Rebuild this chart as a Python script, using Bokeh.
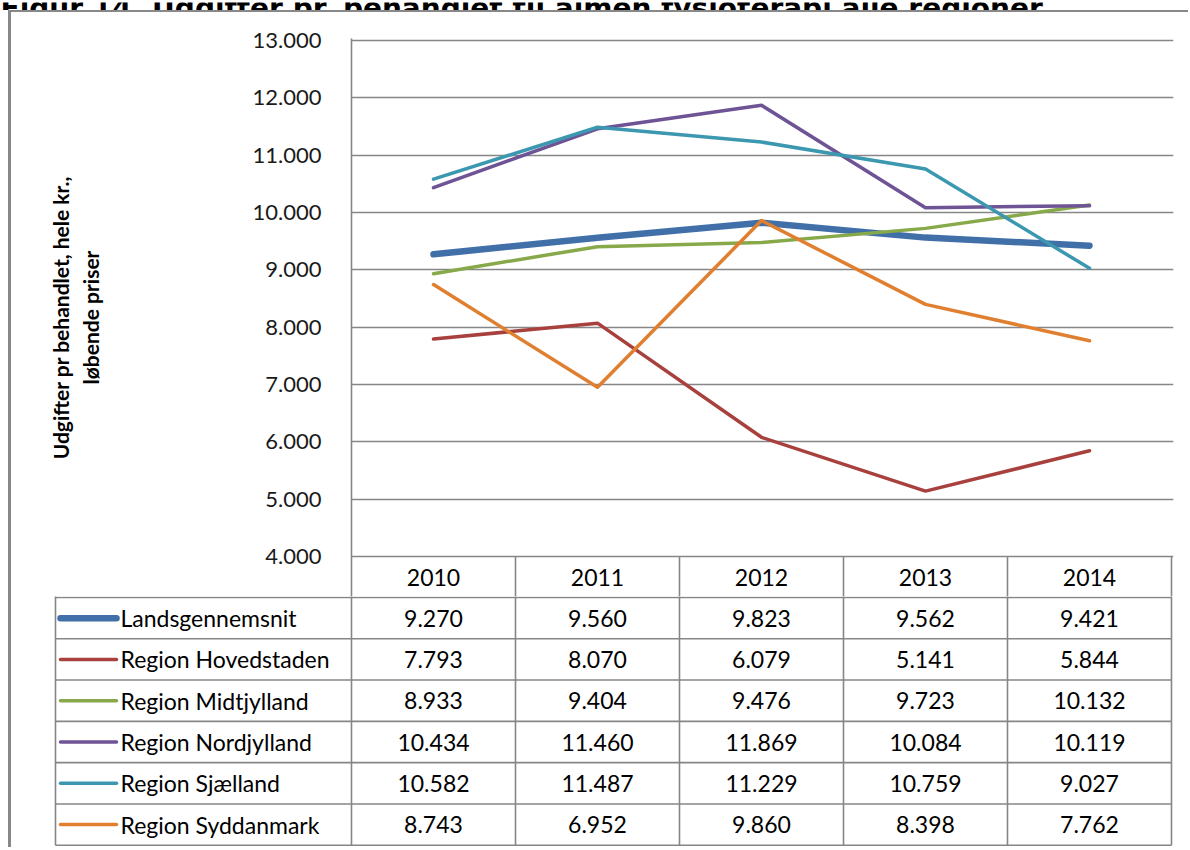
from bokeh.plotting import figure
from bokeh.models import Range1d, FixedTicker, CustomJSTickFormatter, Div, ColumnDataSource
from bokeh.layouts import column, row
from bokeh.core.properties import value
from bokeh.embed import file_html
from bokeh.resources import INLINE

# ---------------- data ----------------
title_text = "Figur 14. Udgifter pr. behandlet til almen fysioterapi alle regioner"
y_axis_title = "Udgifter pr behandlet, hele kr.,\nløbende priser"
years = ["2010", "2011", "2012", "2013", "2014"]
series_names = ["Landsgennemsnit", "Region Hovedstaden", "Region Midtjylland",
                "Region Nordjylland", "Region Sjælland", "Region Syddanmark"]
landsgennemsnit = [9270, 9560, 9823, 9562, 9421]
hovedstaden = [7793, 8070, 6079, 5141, 5844]
midtjylland = [8933, 9404, 9476, 9723, 10132]
nordjylland = [10434, 11460, 11869, 10084, 10119]
sjaelland = [10582, 11487, 11229, 10759, 9027]
syddanmark = [8743, 6952, 9860, 8398, 7762]
y_ticks = [4000, 5000, 6000, 7000, 8000, 9000, 10000, 11000, 12000, 13000]

series_values = [landsgennemsnit, hovedstaden, midtjylland, nordjylland, sjaelland, syddanmark]

# ---------------- styles ----------------
colors = ["#4170A8", "#A8413D", "#87A94A", "#6E5495", "#3B98B0", "#E07F30"]
widths = [6.5, 3.5, 3.5, 3.5, 3.5, 3.5]
GRID = "#868686"
FONT = "Lato"
FS = "22px"
TFS = "23px"


def fmt(v):
    return f"{v:,}".replace(",", ".")


def set_frame_free(fig):
    try:
        fig.frame_align = False
    except Exception:
        pass


# ---------------- title strip ----------------
tf = figure(width=1188, height=10, x_range=Range1d(0, 1188), y_range=Range1d(0, 10),
            x_axis_location=None, y_axis_location=None, min_border=0,
            output_backend="svg", toolbar_location=None)
tf.outline_line_color = None
tf.grid.visible = False
set_frame_free(tf)
tf.text(x=[0], y=[4.5], text=[title_text], text_font=value("DejaVu Sans"),
        text_font_style="bold", text_font_size="28px", text_baseline="alphabetic",
        text_color="#000000")

# ---------------- chart (with the table's year header row) ----------------
col_px = 164.0
n_cols = len(years)
row_px = 289.0 / (len(series_names) + 1)
px_per_val = 516 / 9000.0
y_lo = min(y_ticks) - 40 / px_per_val
y_hi = max(y_ticks) + 2 / px_per_val
header_y = min(y_ticks) - (row_px / 2) / px_per_val

p = figure(width=1177, height=584,
           x_range=Range1d(-0.5, n_cols - 0.5 + 2 / col_px),
           y_range=Range1d(y_lo, y_hi), x_axis_location=None,
           min_border_left=340, min_border_right=15, min_border_top=26, min_border_bottom=0,
           output_backend="svg", toolbar_location=None)
set_frame_free(p)
p.outline_line_color = None
for g in p.xgrid:
    g.visible = False
ax = p.yaxis[0]
ax.ticker = FixedTicker(ticks=y_ticks)
ax.formatter = CustomJSTickFormatter(
    code="return tick.toFixed(0).replace(/\\B(?=(\\d{3})+(?!\\d))/g, '.');")
ax.major_tick_in = 0
ax.major_tick_out = 0
ax.minor_tick_in = 0
ax.minor_tick_out = 0
ax.axis_line_color = GRID
ax.axis_line_width = 1.6
ax.major_label_standoff = 30
ax.major_label_text_font = FONT
ax.major_label_text_font_size = FS
ax.major_label_text_color = "#1a1a1a"
ax.axis_label = y_axis_title
ax.axis_label_text_font = FONT
ax.axis_label_text_font_style = "bold"
ax.axis_label_text_font_size = "21px"
ax.axis_label_text_color = "#000000"
ax.axis_label_standoff = 147
p.ygrid.ticker = FixedTicker(ticks=y_ticks)
p.ygrid.grid_line_color = GRID
p.ygrid.grid_line_width = 1.3

xs = list(range(n_cols))
for name, vals, c, w in zip(series_names, series_values, colors, widths):
    src = ColumnDataSource(dict(x=xs, y=vals))
    p.line("x", "y", source=src, line_color=c, line_width=w,
           line_join="round", line_cap="round")

# header row of the data table: column separators and year labels
sep_x = [i - 0.5 for i in range(1, n_cols + 1)]
p.segment(x0=sep_x, y0=[min(y_ticks)] * len(sep_x), x1=sep_x, y1=[y_lo] * len(sep_x),
          line_color=GRID, line_width=1.6)
p.text(x=xs, y=[header_y] * n_cols, text=years, text_font=value(FONT), text_font_size=TFS,
       text_align="center", text_baseline="middle", text_color="#000000")

# ---------------- data table body ----------------
n_rows = len(series_names)
table_left = -0.5 - (351 - 55) / col_px
x_start = -0.5 - (351 - 53) / col_px
x_end = n_cols - 0.5 + 2 / col_px
ty_top = 1 - 1 / row_px
t_height = 251
ty_bottom = ty_top + t_height / row_px

t = figure(width=1177, height=t_height, x_range=Range1d(x_start, x_end),
           y_range=Range1d(ty_bottom, ty_top),
           x_axis_location=None, y_axis_location=None,
           min_border_left=42, min_border_right=15, min_border_top=0, min_border_bottom=0,
           output_backend="svg", toolbar_location=None)
set_frame_free(t)
t.outline_line_color = None
t.grid.visible = False

# cell borders
hy = list(range(1, n_rows + 2))
t.segment(x0=[table_left] * len(hy), y0=hy, x1=[n_cols - 0.5] * len(hy), y1=hy,
          line_color=GRID, line_width=1.6)
vx = [table_left] + [i - 0.5 for i in range(n_cols + 1)]
t.segment(x0=vx, y0=[0.9] * len(vx), x1=vx, y1=[n_rows + 1] * len(vx),
          line_color=GRID, line_width=1.6)

# values
tx, ty, tt = [], [], []
for r, vals in enumerate(series_values, start=1):
    for i, v in enumerate(vals):
        tx.append(i); ty.append(r + 0.5); tt.append(fmt(v))
t.text(x=tx, y=ty, text=tt, text_font=value(FONT), text_font_size=TFS,
       text_align="center", text_baseline="middle", text_color="#000000")

# legend keys
for r, (name, c, w) in enumerate(zip(series_names, colors, widths), start=1):
    t.segment(x0=[table_left + 5 / col_px], y0=[r + 0.5], x1=[table_left + 61 / col_px],
              y1=[r + 0.5], line_color=c, line_width=w, line_cap="round")
t.text(x=[table_left + 65 / col_px] * n_rows,
       y=[r + 0.5 for r in range(1, n_rows + 1)], text=series_names,
       text_font=value(FONT), text_font_size=TFS, text_align="left",
       text_baseline="middle", text_color="#000000")

# ---------------- layout ----------------
gray = {"background-color": "#888888"}
inner = column(p, t, spacing=0)
framed = column(Div(width=1180, height=2, styles=gray, margin=0),
                row(Div(width=3, height=835, styles=gray, margin=0), inner, spacing=0),
                spacing=0)
body = row(Div(width=8, height=837, margin=0), framed, spacing=0)
root = column(tf, body, spacing=0)

open("out.html", "w").write(file_html(root, INLINE))
